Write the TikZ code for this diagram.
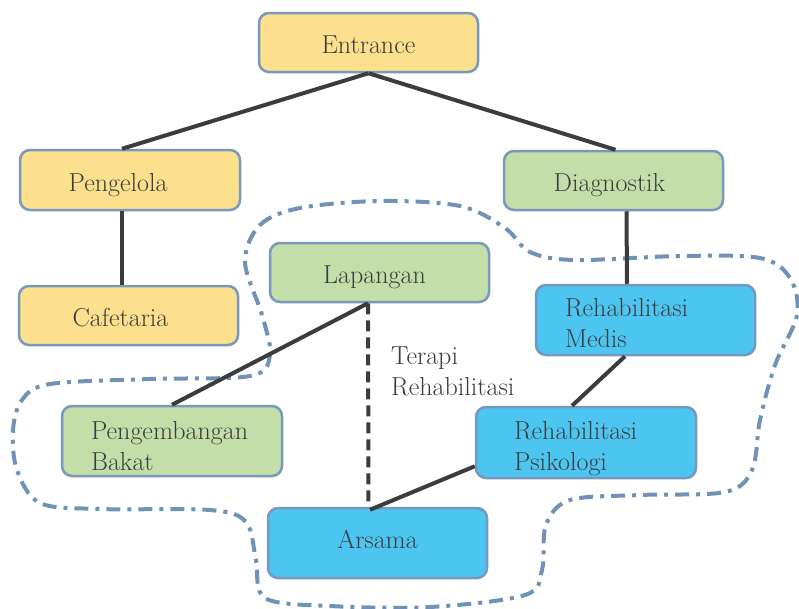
\documentclass[tikz,border=0pt]{standalone}
\usepackage{fontspec}
\newcommand\mystrut[1]{\rule{0pt}{#1}}
\definecolor{boxyellow}{RGB}{252,224,142}
\definecolor{boxgreen}{RGB}{196,222,170}
\definecolor{boxblue}{RGB}{76,198,240}
\definecolor{boxborder}{RGB}{120,152,188}
\definecolor{inkgrey}{RGB}{60,60,60}
\definecolor{zoneblue}{RGB}{112,146,182}
\tikzset{
  box/.style={draw=boxborder, line width=2.5pt, rounded corners=10pt,
    text=inkgrey, font=\fontsize{26}{31}\selectfont, inner ysep=0pt,
    minimum width=219pt, minimum height=59pt},
  onebox/.style={text height=22pt, text depth=0pt},
  tallbox/.style={box, minimum height=70pt, align=left},
  ybox/.style={box, onebox, fill=boxyellow},
  gbox/.style={box, onebox, fill=boxgreen},
  bbox/.style={box, fill=boxblue},
  link/.style={draw=inkgrey, line width=4pt},
  dlink/.style={link, dash pattern=on 11pt off 6pt},
  zone/.style={draw=zoneblue, line width=4pt,
    dash pattern=on 14pt off 7pt on 4pt off 7pt},
  lbl/.style={text=inkgrey, font=\fontsize{26}{31}\selectfont, inner sep=0pt, align=left}
}
\begin{document}
\begin{tikzpicture}[x=1pt,y=-1pt]
\useasboundingbox (0,0) rectangle (799,608);
\fill[white] (0,0) rectangle (799,608);
% zone boundary
\draw[zone] plot[smooth cycle, tension=0.55] coordinates {
 (245,262) (260,225) (300,208) (380,201) (460,206) (505,228) (530,252)
 (575,260) (680,256) (760,258) (790,278) (797,315) (775,365) (760,420)
 (752,470) (725,492) (640,495) (570,500) (546,525) (542,570) (525,595)
 (430,607) (330,606) (265,598) (256,560) (246,522) (210,510) (100,509)
 (40,503) (17,470) (13,430) (22,400) (50,384) (150,379) (250,376)
 (270,355) (262,315)};
% nodes
\node[ybox] (entr) at (368.5,42.5) {Entrance};
\node[ybox, minimum width=220pt, minimum height=60pt] (peng) at (130,180) {Pengelola\hspace*{24pt}};
\node[gbox] (diag) at (613.5,180.5) {Diagnostik\hspace*{8pt}};
\node[ybox] (cafe) at (128.5,315.5) {Cafetaria\hspace*{16pt}};
\node[gbox] (lap) at (379.5,272.5) {Lapangan\hspace*{10pt}};
\node[bbox, tallbox, inner xsep=29pt, text width=161pt] (medis) at (645.5,320) {\mystrut{25pt}Rehabilitasi\\Medis};
\node[box, fill=boxgreen, tallbox, inner xsep=29pt, text width=162pt, minimum width=220pt] (bakat) at (172,441) {\mystrut{28pt}Pengembangan\\Bakat};
\node[bbox, tallbox, inner xsep=38pt, text width=144pt, minimum width=220pt, minimum height=71pt] (psik) at (586,442.5) {\mystrut{30pt}Rehabilitasi\\Psikologi};
\node[bbox, text height=10pt, text depth=0pt, minimum height=70pt] (arsama) at (377.5,543) {Arsama};
\node[lbl, anchor=west] (terapi) at (391,371) {Terapi\\Rehabilitasi};
% connectors
\draw[link] (entr.south) -- ([xshift=-8pt]peng.north);
\draw[link] (entr.south) -- ([xshift=2pt]diag.north);
\draw[link] ([xshift=-8pt]peng.south) -- ([xshift=-6.5pt]cafe.north);
\draw[link] ([xshift=13pt]diag.south) -- ([xshift=-18.5pt]medis.north);
\draw[link] ([xshift=-11.5pt]lap.south) -- (bakat.north);
\draw[dlink] ([xshift=-11.5pt]lap.south) -- ([xshift=-9pt]arsama.north);
\draw[link] ([xshift=-20.5pt]medis.south) -- ([xshift=-14pt]psik.north);
\draw[link] ([yshift=13pt]psik.south west) -- ([xshift=-7.5pt,yshift=-3pt]arsama.north);
\end{tikzpicture}
\end{document}
